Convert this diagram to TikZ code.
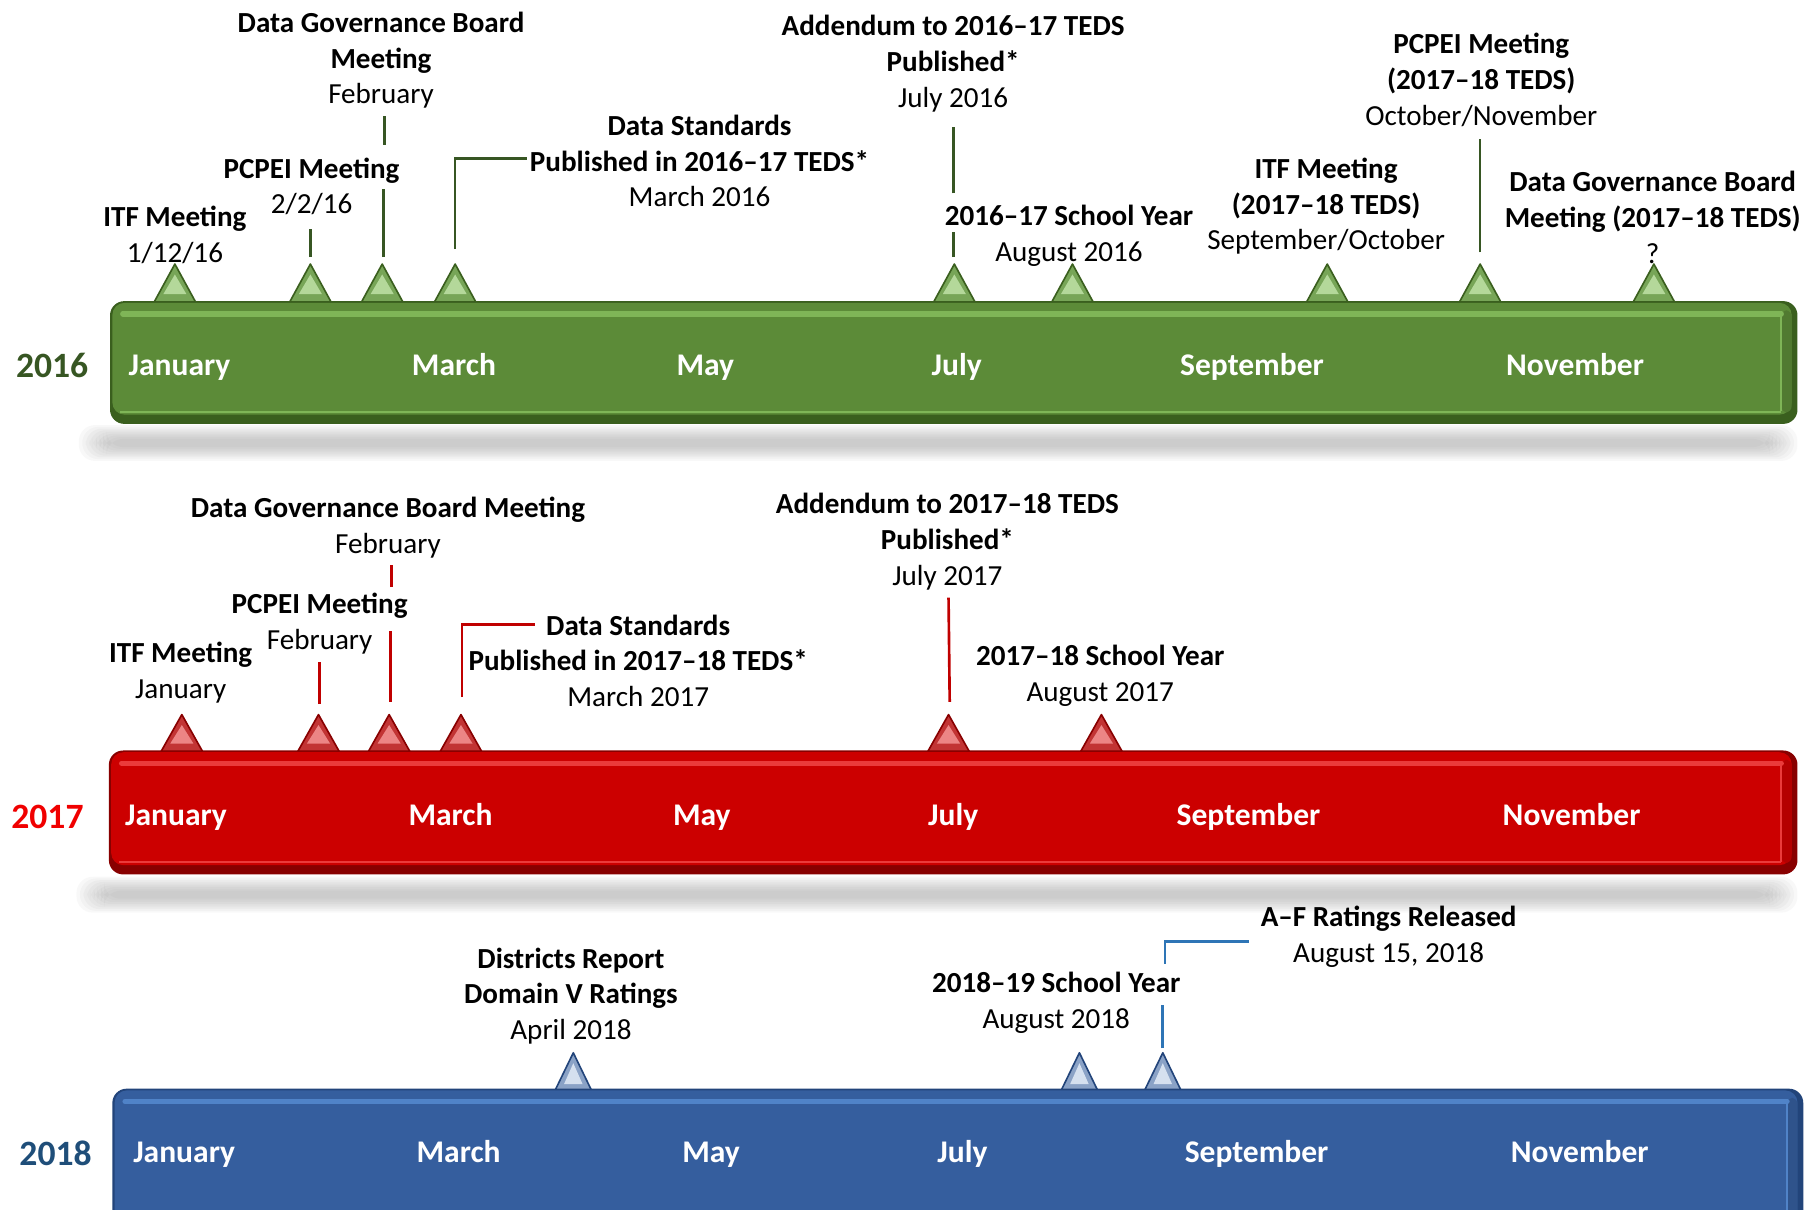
\documentclass[tikz,border=0pt]{standalone}
\usepackage{fontspec}
\setmainfont{Carlito}
\usetikzlibrary{calc}
\definecolor{gMain}{HTML}{5C8B38}
\definecolor{gDark}{HTML}{3A5F1E}
\definecolor{gLight}{HTML}{7FB557}
\definecolor{gLine}{HTML}{375623}
\definecolor{gTriOut}{HTML}{77A557}
\definecolor{gTriIn}{HTML}{B4D89A}
\definecolor{rMain}{HTML}{CC0000}
\definecolor{rDark}{HTML}{880000}
\definecolor{rLight}{HTML}{EA3B3B}
\definecolor{rLine}{HTML}{C00000}
\definecolor{rTriOut}{HTML}{C23434}
\definecolor{rTriIn}{HTML}{EC8585}
\definecolor{rYear}{HTML}{F00000}
\definecolor{bMain}{HTML}{355E9E}
\definecolor{bDark}{HTML}{22447A}
\definecolor{bLight}{HTML}{5083C8}
\definecolor{bLine}{HTML}{2E75B6}
\definecolor{bTriOut}{HTML}{8AA2C6}
\definecolor{bTriIn}{HTML}{D5E0EF}
\definecolor{bYear}{HTML}{1F4E79}
\begin{document}
\begin{tikzpicture}[x=0.02cm,y=-0.02cm,
  lbl/.style={inner sep=0pt, align=center, font=\fontsize{14.3}{17.6}\selectfont},
  mon/.style={inner sep=0pt, anchor=base, text=white, font=\fontsize{15.5}{18}\selectfont\bfseries},
  yr/.style={inner sep=0pt, anchor=base, font=\fontsize{17.5}{20}\selectfont\bfseries},
  lnG/.style={gLine, line width=1.3pt},
  lnR/.style={rLine, line width=1.3pt},
  lnB/.style={bLine, line width=1.3pt},
  shad/.style={gray, opacity=0.055, rounded corners=8pt}
]
\useasboundingbox (0,0) rectangle (1568,1044);

% ---------- shadows ----------
\foreach \i in {0,...,8}{
  \fill[shad] (68+\i*3,367+\i*1.5) rectangle (1552-\i*3,398-\i*1.5);
  \fill[shad] (66+\i*3,757+\i*1.5) rectangle (1552-\i*3,788-\i*1.5);
}

% ---------- triangles 2016 ----------
\foreach \x [count=\i] in {151,268,330,393,824,926,1146,1278,1428}{
  \coordinate (ga\i) at (\x,228);
  \filldraw[fill=gTriOut, draw=gDark, line width=0.8pt, line join=round] (\x,228) -- (\x+18,261) -- (\x-18,261) -- cycle;
  \fill[gTriIn] (\x,237) -- (\x+10,254) -- (\x-10,254) -- cycle;
}
% ---------- triangles 2017 ----------
\foreach \x [count=\i] in {157,275,336,398,819,951}{
  \coordinate (ra\i) at (\x,617);
  \filldraw[fill=rTriOut, draw=rDark, line width=0.8pt, line join=round] (\x,617) -- (\x+18,649) -- (\x-18,649) -- cycle;
  \fill[rTriIn] (\x,626) -- (\x+10,642) -- (\x-10,642) -- cycle;
}
% ---------- triangles 2018 ----------
\foreach \x [count=\i] in {495,932,1004}{
  \coordinate (ba\i) at (\x,909);
  \filldraw[fill=bTriOut, draw=bDark, line width=0.8pt, line join=round] (\x,909) -- (\x+16,942) -- (\x-16,942) -- cycle;
  \fill[bTriIn] (\x,918) -- (\x+8,936) -- (\x-8,936) -- cycle;
}

% ---------- bars ----------
\fill[gDark, rounded corners=7pt] (95,260) rectangle (1552,366);
\fill[gMain, rounded corners=6pt] (97,261.5) rectangle (1547,358);
\fill[gMain!88!black, rounded corners=3pt] (1538,268) rectangle (1547,356);
\draw[gLight, line width=2.6pt, line cap=round] (106,271) -- (1538,271);
\draw[gLight, line width=0.8pt] (104,355.5) -- (1538,355.5);
\draw[gLight, line width=0.8pt] (1538,272) -- (1538,355);

\fill[rDark, rounded corners=7pt] (94,648) rectangle (1552,755);
\fill[rMain, rounded corners=6pt] (96,649.5) rectangle (1547,747);
\fill[rMain!88!black, rounded corners=3pt] (1538,656) rectangle (1547,745);
\draw[rLight, line width=2.6pt, line cap=round] (105,659) -- (1538,659);
\draw[rLight, line width=0.8pt] (103,744.5) -- (1538,744.5);
\draw[rLight, line width=0.8pt] (1538,660) -- (1538,744);

\fill[bDark, rounded corners=7pt] (97,940) rectangle (1557,1070);
\fill[bMain, rounded corners=6pt] (99,941.5) rectangle (1552,1068);
\fill[bMain!88!black, rounded corners=3pt] (1543,948) rectangle (1552,1066);
\draw[bLight, line width=2.6pt, line cap=round] (108,951) -- (1543,951);
\draw[bLight, line width=0.8pt] (1543,952) -- (1543,1066);

% ---------- year labels ----------
\node[yr, text=gLine] (y16) at (45,326) {2016};
\node[yr, text=rYear] (y17) at (41,715) {2017};
\node[yr, text=bYear] (y18) at (48,1006) {2018};

% ---------- month labels ----------
\foreach \m/\x [count=\i] in {January/155,March/392,May/609,July/826,September/1081,November/1360}
  \node[mon] (m16\i) at (\x,324) {\m};
\foreach \m/\x [count=\i] in {January/152,March/389,May/606,July/823,September/1078,November/1357}
  \node[mon] (m17\i) at (\x,713) {\m};
\foreach \m/\x [count=\i] in {January/159,March/396,May/614,July/831,September/1085,November/1364}
  \node[mon] (m18\i) at (\x,1004) {\m};

% ---------- 2016 labels ----------
\node[lbl] (itf16) at (151,202.5) {\textbf{ITF Meeting}\\1/12/16};
\node[lbl] (pcpei16) at (269,161) {\textbf{PCPEI Meeting}\\2/2/16};
\node[lbl] (dgb16) at (329,52) {\textbf{Data Governance Board}\\\textbf{Meeting}\\February};
\node[lbl] (ds16) at (604,139) {\textbf{Data Standards}\\\textbf{Published in 2016–17 TEDS*}\\March 2016};
\node[lbl] (add16) at (823,55) {\textbf{Addendum to 2016–17 TEDS}\\\textbf{Published*}\\July 2016};
\node[lbl] (sy16) at (923,203.5) {\textbf{2016–17 School Year}\\August 2016};
\node[lbl] (itf1718) at (1145,178) {\textbf{ITF Meeting}\\\textbf{(2017–18 TEDS)}\\September/October};
\node[lbl] (pcpei1718) at (1279,69) {\textbf{PCPEI Meeting}\\\textbf{(2017–18 TEDS)}\\October/November};
\node[lbl] (dgb1718) at (1427,187.5) {\textbf{Data Governance Board}\\\textbf{Meeting (2017–18 TEDS)}\\?};

% ---------- 2017 labels ----------
\node[lbl] (itf17) at (156,580.5) {\textbf{ITF Meeting}\\January};
\node[lbl] (pcpei17) at (276,538.5) {\textbf{PCPEI Meeting}\\February};
\node[lbl] (dgb17) at (335,455.5) {\textbf{Data Governance Board Meeting}\\February};
\node[lbl] (ds17) at (551,570.5) {\textbf{Data Standards}\\\textbf{Published in 2017–18 TEDS*}\\March 2017};
\node[lbl] (add17) at (818,467.5) {\textbf{Addendum to 2017–18 TEDS}\\\textbf{Published*}\\July 2017};
\node[lbl] (sy17) at (950,583.5) {\textbf{2017–18 School Year}\\August 2017};

% ---------- 2018 labels ----------
\node[lbl] (dr18) at (493,860) {\textbf{Districts Report}\\\textbf{Domain V Ratings}\\April 2018};
\node[lbl] (sy18) at (912,865.5) {\textbf{2018–19 School Year}\\August 2018};
\node[lbl] (af18) at (1199,808.5) {\textbf{A–F Ratings Released}\\August 15, 2018};

% ---------- connectors 2016 ----------
\draw[lnG] ($(ga2)+(0,-6)$) -- ($(ga2)+(0,-30)$);
\draw[lnG] ($(ga3)+(1,-6)$) -- ($(ga3)+(1,-65)$);
\draw[lnG] ($(ga3)+(2,-103)$) -- ($(ga3)+(2,-128)$);
\draw[lnG] ($(ga4)+(0,-13)$) -- ($(ga4)+(0,-91)$) -- ($(ga4)+(62,-91)$);
\draw[lnG] ($(ga5)+(-1,-6)$) -- ($(ga5)+(-1,-28)$);
\draw[lnG] ($(ga5)+(-1,-61)$) -- ($(ga5)+(-1,-118)$);
\draw[lnG] ($(ga8)+(0,-10)$) -- ($(ga8)+(0,-108)$);

% ---------- connectors 2017 ----------
\draw[lnR] ($(ra2)+(1,-9)$) -- ($(ra2)+(1,-45)$);
\draw[lnR] ($(ra3)+(1,-11)$) -- ($(ra3)+(1,-72)$);
\draw[lnR] ($(ra3)+(2,-110)$) -- ($(ra3)+(2,-129)$);
\draw[lnR] ($(ra4)+(1,-15)$) -- ($(ra4)+(1,-78)$) -- ($(ra4)+(64,-78)$);
\draw[lnR] ($(ra5)+(1,-11)$) -- ($(ra5)+(0,-101)$);

% ---------- connectors 2018 ----------
\draw[lnB] ($(ba3)+(0,-4)$) -- ($(ba3)+(0,-41)$);
\draw[lnB] ($(ba3)+(2,-77)$) -- ($(ba3)+(2,-96)$) -- ($(ba3)+(74,-96)$);
\end{tikzpicture}
\end{document}
